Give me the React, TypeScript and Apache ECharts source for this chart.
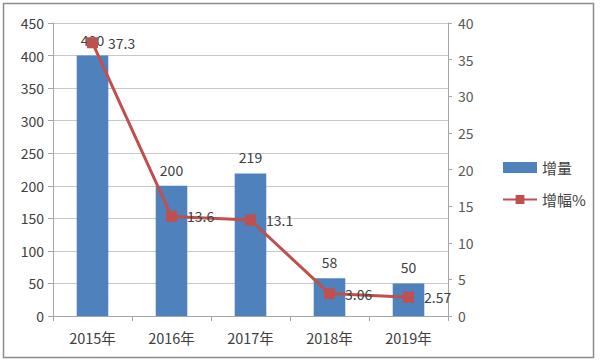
import React, { useEffect, useRef } from "react";
import * as echarts from "echarts";

const categories = ["2015年", "2016年", "2017年", "2018年", "2019年"];
const increaseValues = [400, 200, 219, 58, 50];
const growthValues = [37.3, 13.6, 13.1, 3.06, 2.57];
const leftTicks = { min: 0, max: 450, interval: 50 };
const rightTicks = { min: 0, max: 40, interval: 5 };

const FONT = "'Noto Sans CJK SC', 'Noto Sans', sans-serif";
const TEXT = "#404040";

export default function App() {
  const ref = useRef<HTMLDivElement>(null);
  useEffect(() => {
    document.body.style.margin = "0";
    const chart = echarts.init(ref.current!, null, { renderer: "svg" });
    chart.setOption({
      animation: false,
      backgroundColor: "#ffffff",
      textStyle: { fontFamily: FONT },
      graphic: [
        {
          type: "rect",
          shape: { x: 3.5, y: 3.5, width: 590, height: 354 },
          style: { fill: "none", stroke: "#8c8c8c", lineWidth: 1.5 },
          z: 100,
        },
      ],
      grid: { left: 53, right: 152, top: 23, bottom: 46 },
      legend: {
        orient: "vertical",
        left: 497,
        top: 155,
        itemWidth: 34,
        itemHeight: 11,
        itemGap: 17,
        textStyle: { fontSize: 15, color: TEXT, fontFamily: FONT },
        data: [
          { name: "增量", icon: "rect" },
          { name: "增幅%" },
        ],
      },
      xAxis: {
        type: "category",
        data: categories,
        axisLine: { lineStyle: { color: "#a6a6a6" } },
        axisTick: { show: true, length: 5, lineStyle: { color: "#a6a6a6" } },
        axisLabel: { color: TEXT, fontSize: 14.5, margin: 14, fontFamily: FONT },
      },
      yAxis: [
        {
          type: "value",
          min: leftTicks.min,
          max: leftTicks.max,
          interval: leftTicks.interval,
          axisLine: { show: true, lineStyle: { color: "#a6a6a6" } },
          axisTick: { show: true, length: 5, lineStyle: { color: "#a6a6a6" } },
          axisLabel: { color: TEXT, fontSize: 14, margin: 9, fontFamily: FONT },
          splitLine: { lineStyle: { color: "#c8c8c8" } },
        },
        {
          type: "value",
          min: rightTicks.min,
          max: rightTicks.max,
          interval: rightTicks.interval,
          axisLine: { show: true, lineStyle: { color: "#a6a6a6" } },
          axisTick: { show: true, length: 4, lineStyle: { color: "#a6a6a6" } },
          axisLabel: { color: "#595959", fontSize: 14, margin: 10, fontFamily: FONT },
          splitLine: { show: false },
        },
      ],
      series: [
        {
          name: "增量",
          type: "bar",
          data: increaseValues,
          barWidth: "40%",
          itemStyle: { color: "#4f81bd" },
          label: {
            show: true,
            position: "top",
            distance: 9,
            color: TEXT,
            fontSize: 14,
            fontFamily: FONT,
          },
        },
        {
          name: "增幅%",
          type: "line",
          yAxisIndex: 1,
          data: growthValues,
          symbol: "rect",
          symbolSize: 11,
          lineStyle: { color: "#c0504d", width: 3 },
          itemStyle: { color: "#c0504d" },
          label: {
            show: true,
            position: "right",
            distance: 10,
            color: TEXT,
            fontSize: 14,
            fontFamily: FONT,
          },
          z: 3,
        },
      ],
    });
    return () => chart.dispose();
  }, []);
  return <div ref={ref} style={{ width: 600, height: 362 }} />;
}
